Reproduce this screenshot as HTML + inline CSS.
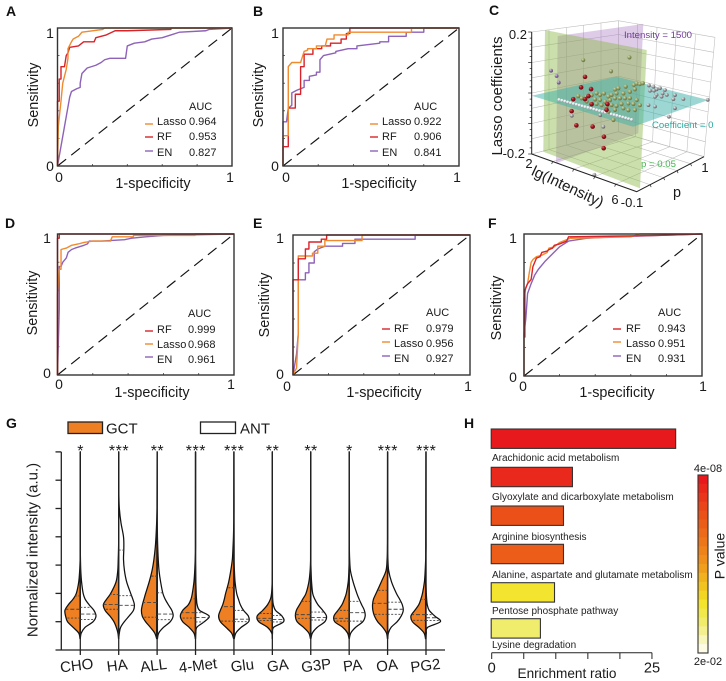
<!DOCTYPE html>
<html lang="en">
<head>
<meta charset="utf-8">
<title>Metabolomics classifier figure</title>
<style>
html,body{margin:0;padding:0;background:#fff;}
svg{display:block;font-family:"Liberation Sans",Arial,sans-serif;}
</style>
</head>
<body>
<svg id="figure" xmlns="http://www.w3.org/2000/svg" width="726" height="681" viewBox="0 0 726 681">
<defs>
<radialGradient id="ballRed" cx="35%" cy="30%" r="75%"><stop offset="0" stop-color="#e06a6a"/><stop offset=".45" stop-color="#a01420"/><stop offset="1" stop-color="#5c0a10"/></radialGradient>
<radialGradient id="ballGreen" cx="35%" cy="30%" r="75%"><stop offset="0" stop-color="#d4dcb0"/><stop offset=".5" stop-color="#8f9c62"/><stop offset="1" stop-color="#5e6a3c"/></radialGradient>
<radialGradient id="ballGray" cx="35%" cy="30%" r="75%"><stop offset="0" stop-color="#f0f0f0"/><stop offset=".5" stop-color="#9a9a9e"/><stop offset="1" stop-color="#55555a"/></radialGradient>
<radialGradient id="ballPurple" cx="35%" cy="30%" r="75%"><stop offset="0" stop-color="#e0d0f0"/><stop offset=".5" stop-color="#8a70a8"/><stop offset="1" stop-color="#504068"/></radialGradient>
<radialGradient id="ballWhite" cx="35%" cy="30%" r="75%"><stop offset="0" stop-color="#ffffff"/><stop offset=".65" stop-color="#dcdce4"/><stop offset="1" stop-color="#85858f"/></radialGradient>
</defs>
</svg>
<script>
// ---------- ROC data: panel A ----------
const rocALassoFpr = [0,0.005,0.02,0.03,0.04,0.05,0.06,0.06,0.08,0.09,0.12,0.14,0.2,0.26,0.27,1];
const rocALassoTpr = [0,0.29,0.47,0.6,0.65,0.7,0.78,0.85,0.9,0.92,0.94,0.97,0.98,0.99,1,1];
const rocARfFpr = [0,0,0.01,0.01,0.02,0.02,0.04,0.05,0.06,0.07,0.12,0.15,0.21,0.22,0.28,0.33,0.4,0.65,0.65,1];
const rocARfTpr = [0,0.47,0.47,0.63,0.63,0.72,0.72,0.8,0.82,0.86,0.87,0.9,0.9,0.93,0.95,0.98,0.98,0.99,1,1];
const rocAEnFpr = [0,0.07,0.08,0.11,0.13,0.13,0.14,0.17,0.22,0.25,0.27,0.3,0.39,0.4,0.44,0.5,0.54,0.6,0.65,0.7,0.85,0.87,1];
const rocAEnTpr = [0,0.5,0.54,0.56,0.57,0.6,0.67,0.71,0.73,0.75,0.77,0.78,0.78,0.87,0.89,0.9,0.92,0.93,0.95,0.97,0.98,0.99,1];
const aucA = [0.964,0.953,0.827];
// ---------- ROC data: panel B ----------
const rocBLassoFpr = [0,0,0.03,0.03,0.05,0.1,0.12,0.14,0.14,0.19,0.19,0.24,0.25,0.29,0.29,0.37,0.37,0.73,0.73,1];
const rocBLassoTpr = [0,0.22,0.22,0.72,0.75,0.75,0.83,0.84,0.85,0.85,0.87,0.87,0.92,0.92,0.95,0.95,0.97,0.97,1,1];
const rocBRfFpr = [0,0,0.03,0.03,0.07,0.07,0.1,0.1,0.12,0.12,0.17,0.17,0.22,0.22,0.27,0.27,0.33,0.33,0.36,0.36,0.38,0.38,1];
const rocBRfTpr = [0,0.14,0.14,0.42,0.42,0.52,0.52,0.72,0.72,0.81,0.81,0.85,0.85,0.87,0.87,0.89,0.89,0.92,0.92,0.96,0.96,1,1];
const rocBEnFpr = [0,0,0.02,0.03,0.05,0.05,0.08,0.1,0.12,0.12,0.15,0.15,0.19,0.19,0.21,0.21,0.23,0.3,0.3,0.37,0.42,0.42,0.55,0.55,0.6,0.6,0.7,0.7,0.8,0.8,1];
const rocBEnTpr = [0,0.32,0.32,0.42,0.44,0.53,0.55,0.56,0.57,0.62,0.62,0.65,0.66,0.68,0.68,0.77,0.8,0.82,0.83,0.85,0.85,0.87,0.89,0.9,0.9,0.94,0.94,0.97,0.97,1,1];
const aucB = [0.922,0.906,0.841];
// ---------- ROC data: panel D ----------
const rocDRfFpr = [0,0,0.01,0.01,1];
const rocDRfTpr = [0,0.97,0.97,1,1];
const rocDLassoFpr = [0,0,0.01,0.02,0.02,0.05,0.08,0.12,0.15,0.2,0.3,0.31,0.43,0.43,0.78,0.78,1];
const rocDLassoTpr = [0,0.57,0.75,0.75,0.89,0.9,0.92,0.93,0.94,0.95,0.95,0.98,0.98,0.99,0.99,1,1];
const rocDEnFpr = [0,0.01,0.01,0.02,0.03,0.05,0.06,0.08,0.1,0.15,0.17,0.18,0.25,0.38,0.42,0.5,0.6,1];
const rocDEnTpr = [0,0.47,0.77,0.77,0.8,0.83,0.87,0.89,0.9,0.92,0.93,0.95,0.95,0.96,0.97,0.98,0.99,1];
const aucD = [0.999,0.968,0.961];
// ---------- ROC data: panel E ----------
const rocERfFpr = [0,0,0.03,0.03,0.07,0.07,0.09,0.09,0.16,0.16,0.19,0.19,1];
const rocERfTpr = [0,0.68,0.68,0.83,0.83,0.9,0.9,0.95,0.95,0.97,0.97,1,1];
const rocELassoFpr = [0,0.02,0.03,0.03,0.11,0.11,0.14,0.14,0.18,0.18,0.39,0.39,1];
const rocELassoTpr = [0,0.05,0.3,0.85,0.85,0.87,0.87,0.92,0.92,0.96,0.96,1,1];
const rocEEnFpr = [0,0.02,0.03,0.03,0.07,0.07,0.09,0.09,0.12,0.12,0.14,0.18,0.28,0.28,0.35,0.35,0.69,0.69,1];
const rocEEnTpr = [0,0.15,0.3,0.68,0.68,0.73,0.73,0.8,0.8,0.88,0.9,0.92,0.92,0.94,0.94,0.97,0.97,1,1];
const aucE = [0.979,0.956,0.927];
// ---------- ROC data: panel F ----------
const rocFRfFpr = [0.005,0.005,0.01,0.02,0.04,0.05,0.06,0.07,0.09,0.1,0.13,0.14,0.16,0.17,0.2,0.24,0.25,0.5,0.75,1];
const rocFRfTpr = [0.27,0.6,0.62,0.65,0.68,0.77,0.8,0.83,0.84,0.87,0.88,0.89,0.9,0.92,0.93,0.95,0.98,0.985,0.99,1];
const rocFLassoFpr = [0,0,0.01,0.02,0.03,0.04,0.05,0.07,0.1,0.13,0.14,0.17,0.2,0.24,0.26,0.6,0.65,1];
const rocFLassoTpr = [0,0.55,0.62,0.65,0.73,0.8,0.82,0.84,0.85,0.87,0.9,0.91,0.94,0.96,0.97,0.98,1,1];
const rocFEnFpr = [0,0,0.01,0.02,0.04,0.06,0.08,0.12,0.16,0.2,0.25,0.35,0.5,0.75,1];
const rocFEnTpr = [0,0.3,0.4,0.58,0.65,0.71,0.75,0.81,0.86,0.91,0.95,0.97,0.98,0.99,1];
const aucF = [0.943,0.951,0.931];

// ---------- Panel C: 3D scatter values ----------
const greenLgI = [3.73,5.49,4.79,4.94,5.07,5.35,5.66,5.77,5.89,6.0,5.7,5.51,5.26,5.0,4.81,4.69,4.52,4.37,4.24,4.05,3.86,3.67,3.54,4.18,4.37,4.56,4.75,4.94,5.13,5.32,5.51,5.77,5.89,5.64,5.45,5.19,5.0,4.81,4.62,4.43,4.24,4.05,3.86,5.26,5.7,5.45,4.94,4.69,4.88];
const greenCoef = [0.151,0.214,0.147,0.092,0.1,0.114,0.129,0.137,0.139,0.145,0.116,0.102,0.089,0.081,0.07,0.061,0.066,0.056,0.058,0.046,0.035,0.024,0.027,0.036,0.04,0.04,0.051,0.063,0.069,0.075,0.081,0.083,0.07,0.066,0.062,0.052,0.04,0.037,0.026,0.025,0.023,0.019,0.019,0.04,0.048,0.04,0.025,0.011,-0.01];
const greenP = 0;
const redLgI = [3.8,3.65,4.03,3.93,3.8,3.35,4.05,4.65,4.62,3.29,3.47,4.09,4.52,4.51];
const redCoef = [0.098,0.059,0.065,0.039,0.025,0.011,0.016,0.035,0.015,-0.03,-0.071,-0.056,-0.076,-0.114];
const redP = 0;
const grayLgI = [4.37,4.54,4.66,4.41,4.56,4.79,4.98,4.89,4.66,4.85,5.05,4.6,5.36,5.3,5.68,5.36,4.6,4.35,5.13,6.61,2.63,2.29,1.43,2.51];
const grayCoef = [0.004,0.005,0,-0.012,-0.007,0.008,0.008,-0.006,-0.018,-0.018,-0.006,-0.026,0.003,-0.012,0,-0.04,-0.058,-0.061,-0.075,0.026,-0.185,-0.353,-0.186,-0.151];
const grayP = 0.8;
const purpleLgI = [2.74,2.95,3.03];
const purpleCoef = [0.096,0.085,0.066];
const purpleP = -0.1;
const whiteLgI = [2.9,3.0,3.1,3.2,3.3,3.4,3.5,3.6,3.7,3.8,3.9,4.0,4.1,4.2,4.3,4.4,4.5,4.6,4.7,4.8,4.9,5.0,5.1,5.2,5.3,5.4];
const whiteP = [-0.04,-0.036,-0.031,-0.027,-0.022,-0.018,-0.013,-0.009,-0.004,0,0.005,0.01,0.014,0.019,0.023,0.028,0.032,0.037,0.041,0.046,0.05,0.055,0.059,0.064,0.068,0.073];

// ---------- Panel G: violin values ----------
const categories = ["CHO","HA","ALL","4-Met","Glu","GA","G3P","PA","OA","PG2"];
const significance = ["*","***","**","***","***","**","**","*","***","***"];
const intensityGrid = [0.4,0.6,0.8,1,1.2,1.4,1.6,1.8,2,2.4,2.8,3.2,3.6,4,4.5,5,5.5,6,7];
const gctCHO = [0.02,0.1,0.45,0.8,0.92,0.96,0.75,0.45,0.25,0.1,0.04,0.01,0,0,0,0,0,0,0];
const antCHO = [0,0.06,0.3,0.8,0.98,0.85,0.55,0.3,0.18,0.08,0.03,0.01,0,0,0,0,0,0,0];
const gctHA = [0.01,0.05,0.15,0.3,0.55,0.85,0.96,0.75,0.5,0.17,0.06,0.03,0.01,0,0,0,0,0,0];
const antHA = [0,0.04,0.12,0.35,0.65,0.92,0.98,0.88,0.75,0.5,0.36,0.3,0.32,0.3,0.14,0.04,0.01,0,0];
const gctALL = [0.03,0.15,0.42,0.72,0.93,0.98,0.92,0.82,0.72,0.5,0.32,0.2,0.12,0.07,0.03,0.01,0,0,0];
const antALL = [0.02,0.1,0.4,0.82,1,0.92,0.7,0.5,0.36,0.22,0.12,0.07,0.04,0.02,0.01,0,0,0,0];
const gct4Met = [0.01,0.1,0.4,0.8,0.95,0.8,0.45,0.28,0.2,0.1,0.05,0.02,0,0,0,0,0,0,0];
const ant4Met = [0,0.02,0.08,0.55,0.85,0.25,0.1,0.06,0.04,0.02,0.01,0,0,0,0,0,0,0,0];
const gctGlu = [0.02,0.15,0.5,0.85,0.96,0.85,0.7,0.6,0.52,0.33,0.2,0.1,0.06,0.03,0.01,0,0,0,0];
const antGlu = [0.02,0.12,0.45,0.92,0.9,0.6,0.4,0.28,0.17,0.07,0.03,0.01,0,0,0,0,0,0,0];
const gctGA = [0,0.04,0.3,0.85,0.95,0.6,0.3,0.12,0.05,0.01,0,0,0,0,0,0,0,0,0];
const antGA = [0,0.01,0.08,0.7,0.6,0.2,0.06,0.02,0.01,0,0,0,0,0,0,0,0,0,0];
const gctG3P = [0.02,0.12,0.45,0.85,0.96,0.9,0.7,0.5,0.3,0.12,0.04,0.01,0,0,0,0,0,0,0];
const antG3P = [0.01,0.1,0.4,0.88,0.98,0.75,0.45,0.25,0.12,0.05,0.02,0,0,0,0,0,0,0,0];
const gctPA = [0.01,0.1,0.4,0.9,0.95,0.7,0.45,0.3,0.18,0.06,0.02,0,0,0,0,0,0,0,0];
const antPA = [0.01,0.1,0.4,0.85,1,0.95,0.78,0.62,0.48,0.25,0.08,0.03,0.01,0,0,0,0,0,0];
const gctOA = [0.01,0.07,0.3,0.62,0.82,0.92,0.94,0.88,0.72,0.4,0.1,0.03,0.01,0,0,0,0,0,0];
const antOA = [0.01,0.05,0.22,0.6,0.85,0.98,0.92,0.75,0.55,0.25,0.07,0.02,0,0,0,0,0,0,0];
const gctPG2 = [0.03,0.12,0.45,0.85,0.94,0.7,0.45,0.32,0.22,0.1,0.05,0.02,0,0,0,0,0,0,0];
const antPG2 = [0,0.02,0.1,0.9,0.55,0.2,0.08,0.04,0.02,0,0,0,0,0,0,0,0,0,0];
const quartGCT_upper = [1.91,1.96,2.61,1.81,2.2,1.29,1.72,1.4,2.11,1.79];
const quartGCT_median = [1.44,1.61,1.68,1.32,1.53,1.12,1.25,1.12,1.65,1.25];
const quartGCT_lower = [1.13,1.44,1.16,1.13,1.02,1.04,1.12,1.02,1.26,1.05];
const quartANT_upper = [1.51,1.92,2.02,1.32,1.4,1.22,1.34,1.72,1.69,1.25];
const quartANT_median = [1.27,1.58,1.27,1.15,1.09,1.08,1.15,1.32,1.44,1.14];
const quartANT_lower = [1.08,3.53,1.07,0.99,1.0,0.99,1.06,1.02,1.26,1.04];

// ---------- Panel H: enrichment values ----------
const pathways = ["Arachidonic acid metabolism","Glyoxylate and dicarboxylate metabolism","Arginine biosynthesis","Alanine, aspartate and glutamate metabolism","Pentose phosphate pathway","Lysine degradation"];
const enrichment = [28.7,12.6,11.2,11.2,9.8,7.6];
const log10P = [-7.4,-7.06,-6.26,-5.92,-3.18,-2.56];
const enrichmentTicks = [0,5,10,15,20,25];
const enrichmentTickLabels = ["0","","","","","25"];

const svg = document.getElementById('figure');
const NS = 'http://www.w3.org/2000/svg';
function mk(tag, attrs, parent) {
  const e = document.createElementNS(NS, tag);
  for (const k in attrs) e.setAttribute(k, attrs[k]);
  (parent || svg).appendChild(e);
  return e;
}
function tx(str, x, y, size, parent, extra) {
  const e = mk('text', Object.assign({x: x, y: y, 'font-size': size, fill: '#1a1a1a'}, extra || {}), parent);
  e.textContent = str;
  return e;
}
function group(parent) { return mk('g', {}, parent); }

// ---------- ROC panels ----------
const seriesColor = {Lasso: '#f08a2e', RF: '#d8232a', EN: '#8d62b8'};
function drawRoc(lay, names, fprs, tprs, aucs) {
  const g = group();
  
  
  const xS = f => lay.x0 + f * (lay.x1 - lay.x0);
  const yS = s => lay.yB - s * (lay.yB - lay.yT);

  const letter = tx(lay.id.toUpperCase(), lay.lx, lay.ly, 14, g, {'font-weight': 'bold', fill: '#111'});
  
  

  for (let i = 1; i < 5; i++) {
    const tb = mk('line', {x1: xS(i / 5), x2: xS(i / 5), y1: lay.yB, y2: lay.yB - 2, stroke: '#444', 'stroke-width': 0.8}, g);
    
    
    const tl = mk('line', {x1: lay.x0, x2: lay.x0 + 2, y1: yS(i / 5), y2: yS(i / 5), stroke: '#444', 'stroke-width': 0.8}, g);
    
    
  }

  const diag = mk('line', {x1: xS(0), y1: yS(0), x2: xS(1), y2: yS(1), stroke: '#111', 'stroke-width': 1.15, 'stroke-dasharray': '11 6.5'}, g);
  
  

  for (let i = names.length - 1; i >= 0; i--) {
    const pts = fprs[i].map((f, j) => xS(f).toFixed(2) + ',' + yS(tprs[i][j]).toFixed(2)).join(' ');
    const line = mk('polyline', {points: pts, fill: 'none', stroke: seriesColor[names[i]], 'stroke-width': 1.4, 'stroke-linejoin': 'round'}, g);
    
    
  }

  const box = mk('rect', {x: lay.x0, y: lay.yT, width: lay.x1 - lay.x0, height: lay.yB - lay.yT, fill: 'none', stroke: '#333', 'stroke-width': 1.4}, g);
  
  

  const y1 = tx('1', lay.ytx, lay.yt1, 14, g, {'text-anchor': 'middle'});
  
  
  const y0 = tx('0', lay.ytx, lay.yt0, 14, g, {'text-anchor': 'middle'});
  
  
  const x0l = tx('0', lay.xt0, lay.xtb, 14, g, {'text-anchor': 'middle'});
  
  
  const x1l = tx('1', lay.xt1, lay.xtb, 14, g, {'text-anchor': 'middle'});
  
  

  const xt = tx('1-specificity', lay.tcx, lay.tb, 14.4, g, {'text-anchor': 'middle'});
  
  
  const yt = tx('Sensitivity', lay.sx, lay.scy, 14.4, g, {'text-anchor': 'middle', transform: 'rotate(-90 ' + lay.sx + ' ' + lay.scy + ')'});
  
  

  const aucHead = tx('AUC', lay.ax, lay.ab, 11, g);
  
  
  names.forEach((n, i) => {
    const sw = mk('line', {x1: lay.swx, x2: lay.swx + 8, y1: lay.swy[i], y2: lay.swy[i], stroke: seriesColor[n], 'stroke-width': 1.4}, g);
    
    
    const lab = tx(n, lay.lbx, lay.rows[i], 11, g);
    
    
    const val = tx(aucs[i].toFixed(3), lay.ax, lay.rows[i], 11, g);
    
    
  });
}

drawRoc({id:'a',x0:57.5,x1:232,yT:28,yB:166,lx:6,ly:16,ytx:50,yt1:38,yt0:171,xt0:59,xt1:230,xtb:182,tcx:153,tb:188,sx:38,scy:95,ax:189,ab:110,rows:[125,140,156],lbx:157,swx:145,swy:[124,137,151]},
  ['Lasso','RF','EN'],[rocALassoFpr,rocARfFpr,rocAEnFpr],[rocALassoTpr,rocARfTpr,rocAEnTpr],aucA);
drawRoc({id:'b',x0:283,x1:459,yT:28,yB:166,lx:253,ly:16,ytx:275,yt1:38,yt0:171,xt0:286,xt1:457,xtb:182,tcx:379,tb:188,sx:263,scy:95,ax:414,ab:110,rows:[125,140,156],lbx:382,swx:370,swy:[124,137,151]},
  ['Lasso','RF','EN'],[rocBLassoFpr,rocBRfFpr,rocBEnFpr],[rocBLassoTpr,rocBRfTpr,rocBEnTpr],aucB);
drawRoc({id:'d',x0:57.5,x1:234,yT:234,yB:375,lx:5,ly:228,ytx:47,yt1:243,yt0:378,xt0:59,xt1:231,xtb:389,tcx:152,tb:397,sx:37,scy:303,ax:188,ab:317,rows:[333,348,363],lbx:157,swx:145,swy:[331,344,357]},
  ['RF','Lasso','EN'],[rocDRfFpr,rocDLassoFpr,rocDEnFpr],[rocDRfTpr,rocDLassoTpr,rocDEnTpr],aucD);
drawRoc({id:'e',x0:293,x1:470,yT:235,yB:375,lx:253,ly:228,ytx:280,yt1:243,yt0:379,xt0:287,xt1:468,xtb:391,tcx:384,tb:397,sx:269,scy:305,ax:426,ab:316,rows:[332,347,362],lbx:394,swx:382,swy:[329,342,356]},
  ['RF','Lasso','EN'],[rocERfFpr,rocELassoFpr,rocEEnFpr],[rocERfTpr,rocELassoTpr,rocEEnTpr],aucE);
drawRoc({id:'f',x0:524,x1:702,yT:234,yB:376,lx:488,ly:228,ytx:513,yt1:243,yt0:382,xt0:523,xt1:703,xtb:391,tcx:617,tb:397,sx:501,scy:308,ax:658,ab:316,rows:[332,347,362],lbx:626,swx:613,swy:[329,342,356]},
  ['RF','Lasso','EN'],[rocFRfFpr,rocFLassoFpr,rocFEnFpr],[rocFRfTpr,rocFLassoTpr,rocFEnTpr],aucF);

// ---------- Panel C: 3D ----------
(function () {
  const g = group();
  
  
  const Z = (x, y) => [480 + x / 3, y / 3];
  const poly = (arr) => arr.map(p => { const q = Z(p[0], p[1]); return q[0].toFixed(1) + ',' + q[1].toFixed(1); }).join(' ');
  const lerp = (a, b, t) => [a[0] + (b[0] - a[0]) * t, a[1] + (b[1] - a[1]) * t];
  function wall(a, b, c, d, nu, nv, name) {
    const wg = group(g);
    
    
    let path = '';
    for (let i = 0; i <= nu; i++) {
      const p = Z.apply(null, lerp(a, b, i / nu)), q = Z.apply(null, lerp(d, c, i / nu));
      path += 'M' + p[0].toFixed(1) + ' ' + p[1].toFixed(1) + 'L' + q[0].toFixed(1) + ' ' + q[1].toFixed(1);
    }
    for (let j = 0; j <= nv; j++) {
      const p = Z.apply(null, lerp(a, d, j / nv)), q = Z.apply(null, lerp(b, c, j / nv));
      path += 'M' + p[0].toFixed(1) + ' ' + p[1].toFixed(1) + 'L' + q[0].toFixed(1) + ' ' + q[1].toFixed(1);
    }
    mk('path', {d: path, stroke: '#bcbcbc', 'stroke-width': 0.55, fill: 'none'}, wg);
  }
  wall([155,96],[415,62],[415,395],[155,462], 5, 8, 'left-wall-grid');
  wall([415,62],[705,112],[672,470],[415,395], 5, 8, 'right-wall-grid');
  wall([155,462],[415,395],[672,470],[470,575], 5, 5, 'floor-grid');

  const purple = mk('polygon', {points: poly([[233,108],[490,72],[475,400],[228,490]]), fill: 'rgba(160,110,190,0.36)'}, g);
  
  
  const green = mk('polygon', {points: poly([[195,90],[500,150],[480,565],[190,455]]), fill: 'rgba(140,185,70,0.45)'}, g);
  
  
  const teal = mk('polygon', {points: poly([[155,287],[410,230],[685,300],[460,380]]), fill: 'rgba(60,175,170,0.5)'}, g);
  
  

  // axis functions of the 3D view
  const px = (lg, p) => 531.67 + (lg - 2) * 26.25 + (p + 0.1) * 61.2;
  const py = (lg, p, c) => 154 + (lg - 2) * 9.417 - (p + 0.1) * 31.83 - (c + 0.2) * 305;

  whiteLgI.forEach((lg, i) => {
    const b = mk('circle', {cx: px(lg, whiteP[i]), cy: py(lg, whiteP[i], 0), r: 1.5, fill: 'url(#ballWhite)'}, g);
    
    
  });
  grayLgI.forEach((lg, i) => {
    const b = mk('circle', {cx: px(lg, grayP), cy: py(lg, grayP, grayCoef[i]), r: 1.9, fill: 'url(#ballGray)'}, g);
    
    
  });
  purpleLgI.forEach((lg, i) => {
    const b = mk('circle', {cx: px(lg, purpleP), cy: py(lg, purpleP, purpleCoef[i]), r: 1.9, fill: 'url(#ballPurple)'}, g);
    
    
  });
  greenLgI.forEach((lg, i) => {
    const b = mk('circle', {cx: px(lg, greenP), cy: py(lg, greenP, greenCoef[i]), r: 2.1, fill: 'url(#ballGreen)'}, g);
    
    
  });
  redLgI.forEach((lg, i) => {
    const b = mk('circle', {cx: px(lg, redP), cy: py(lg, redP, redCoef[i]), r: 2.3, fill: 'url(#ballRed)'}, g);
    
    
  });

  // axes
  const ax = mk('polyline', {points: poly([[155,96],[155,462],[470,575],[672,470]]), fill: 'none', stroke: '#222', 'stroke-width': 1}, g);
  
  
  for (let i = 0; i <= 20; i++) {
    const y = 96 + i * 18.3;
    const major = i % 5 === 0;
    const q = Z(155, y);
    const t = mk('line', {x1: q[0] - (major ? 3.5 : 2), x2: q[0], y1: q[1], y2: q[1], stroke: '#222', 'stroke-width': 0.7}, g);
    
    
  }
  for (let i = 1; i < 5; i++) {
    const p = Z.apply(null, lerp([155,462],[470,575], i / 5));
    const t = mk('line', {x1: p[0], x2: p[0] - 1, y1: p[1], y2: p[1] + 2.5, stroke: '#222', 'stroke-width': 0.7}, g);
    
    
    const r = Z.apply(null, lerp([470,575],[672,470], i / 5));
    const t2 = mk('line', {x1: r[0], x2: r[0] + 1, y1: r[1], y2: r[1] + 2.5, stroke: '#222', 'stroke-width': 0.7}, g);
    
    
  }

  const letter = tx('C', 489, 15, 14, g, {'font-weight': 'bold', fill: '#111'});
  
  
  const t1 = tx('0.2', 527, 39, 13, g, {'text-anchor': 'end'});
  
  
  const t2 = tx('-0.2', 525, 158, 13, g, {'text-anchor': 'end'});
  
  
  const yt = tx('Lasso coefficients', 502, 96, 15, g, {'text-anchor': 'middle', transform: 'rotate(-90 502 96)'});
  
  
  const xt = tx('lg(Intensity)', 565.6, 191, 15, g, {'text-anchor': 'middle', transform: 'rotate(25 565.6 191)'});
  
  
  const l2 = tx('2', 529, 168, 13, g, {'text-anchor': 'middle'});
  
  
  const l6 = tx('6', 615, 204, 13, g, {'text-anchor': 'middle'});
  
  
  const lp0 = tx('-0.1', 632, 207, 13, g, {'text-anchor': 'middle'});
  
  
  const lp1 = tx('1', 705, 172, 13, g, {'text-anchor': 'middle'});
  
  
  const pTitle = tx('p', 677, 197, 14.4, g, {'text-anchor': 'middle'});
  
  
  const a1 = tx('Intensity = 1500', 624, 38, 9.6, g, {fill: '#6f3a96'});
  
  
  const a2 = tx('Coefficient = 0', 652, 128, 9.6, g, {fill: '#22a89e'});
  
  
  const a3 = tx('p = 0.05', 641, 167, 9.6, g, {fill: '#3fb54a'});
  
  
})();

// ---------- Panel G: violins ----------
const gctDensity = [gctCHO,gctHA,gctALL,gct4Met,gctGlu,gctGA,gctG3P,gctPA,gctOA,gctPG2];
const antDensity = [antCHO,antHA,antALL,ant4Met,antGlu,antGA,antG3P,antPA,antOA,antPG2];
(function () {
  const g = group();
  
  
  const vY = v => 650 - v * 28.3;
  const cX = i => 80.3 + i * 38.41;
  const dW = d => d * 16;
  const labelNudge = [-3,-1,-3,3,9,6,6,4,0,0];

  function smooth(pts) {
    let d = 'M' + pts[0][0].toFixed(2) + ' ' + pts[0][1].toFixed(2);
    for (let i = 0; i < pts.length - 1; i++) {
      const p0 = pts[Math.max(0, i - 1)], p1 = pts[i], p2 = pts[i + 1], p3 = pts[Math.min(pts.length - 1, i + 2)];
      const c1 = [p1[0] + (p2[0] - p0[0]) / 6, p1[1] + (p2[1] - p0[1]) / 6];
      const c2 = [p2[0] - (p3[0] - p1[0]) / 6, p2[1] - (p3[1] - p1[1]) / 6];
      d += 'C' + c1[0].toFixed(2) + ' ' + c1[1].toFixed(2) + ' ' + c2[0].toFixed(2) + ' ' + c2[1].toFixed(2) + ' ' + p2[0].toFixed(2) + ' ' + p2[1].toFixed(2);
    }
    return d;
  }
  function densityAt(arr, v) {
    for (let i = 0; i < intensityGrid.length - 1; i++) {
      if (v >= intensityGrid[i] && v <= intensityGrid[i + 1]) {
        const t = (v - intensityGrid[i]) / (intensityGrid[i + 1] - intensityGrid[i]);
        return arr[i] + (arr[i + 1] - arr[i]) * t;
      }
    }
    return 0;
  }

  const letter = tx('G', 6, 428, 14, g, {'font-weight': 'bold', fill: '#111'});
  
  

  const lg1 = mk('rect', {x: 68, y: 422, width: 34.5, height: 11.5, fill: '#ee7f22', stroke: '#222', 'stroke-width': 1.3}, g);
  
  
  const lg1t = tx('GCT', 106, 433.5, 15, g);
  
  
  const lg2 = mk('rect', {x: 200.5, y: 422, width: 35, height: 11.5, fill: '#fff', stroke: '#222', 'stroke-width': 1.3}, g);
  
  
  const lg2t = tx('ANT', 240, 433.5, 15, g);
  
  

  const yAxis = mk('line', {x1: 61.3, x2: 61.3, y1: vY(7), y2: vY(0), stroke: '#222', 'stroke-width': 1.3}, g);
  
  
  const xAxis = mk('line', {x1: 55.5, x2: 445, y1: vY(0), y2: vY(0), stroke: '#222', 'stroke-width': 1.3}, g);
  
  
  for (let v = 1; v <= 7; v++) {
    const t = mk('line', {x1: 55.5, x2: 61.3, y1: vY(v), y2: vY(v), stroke: '#222', 'stroke-width': 1.3}, g);
    
    
  }
  const yt = tx('Normalized intensity (a.u.)', 37.5, 550, 15, g, {'text-anchor': 'middle', transform: 'rotate(-90 37.5 550)'});
  
  

  categories.forEach((name, i) => {
    const vg = group(g);
    
    
    const cx = cX(i);
    const left = intensityGrid.map((v, j) => [cx - dW(gctDensity[i][j]), vY(v)]);
    const right = intensityGrid.map((v, j) => [cx + dW(antDensity[i][j]), vY(v)]);
    const lp = mk('path', {d: smooth(left) + 'Z', fill: '#ee7f22', stroke: '#111', 'stroke-width': 1.25, 'stroke-linejoin': 'round'}, vg);
    
    
    const rp = mk('path', {d: smooth(right) + 'Z', fill: '#fff', stroke: '#111', 'stroke-width': 1.25, 'stroke-linejoin': 'round'}, vg);
    
    
    const center = mk('line', {x1: cx, x2: cx, y1: vY(7), y2: vY(0), stroke: '#222', 'stroke-width': 1.25}, vg);
    
    

    [[quartGCT_upper[i], '2 1.6'], [quartGCT_median[i], '4 2'], [quartGCT_lower[i], '2 1.6']].forEach(q => {
      const l = mk('line', {x1: cx, x2: cx - dW(densityAt(gctDensity[i], q[0])), y1: vY(q[0]), y2: vY(q[0]), stroke: '#444', 'stroke-width': 0.9, 'stroke-dasharray': q[1]}, vg);
      
      
    });
    [[quartANT_upper[i], '2 1.6'], [quartANT_median[i], '4 2'], [quartANT_lower[i], '2 1.6']].forEach(q => {
      const l = mk('line', {x1: cx, x2: cx + dW(densityAt(antDensity[i], q[0])), y1: vY(q[0]), y2: vY(q[0]), stroke: '#444', 'stroke-width': 0.9, 'stroke-dasharray': q[1]}, vg);
      
      
    });

    const tick = mk('line', {x1: cx, x2: cx, y1: vY(0), y2: vY(0) + 5, stroke: '#222', 'stroke-width': 1.3}, vg);
    
    
    const sx = cx + labelNudge[i];
    const lab = tx(name, sx, 670.5, 15, vg, {'text-anchor': 'middle', transform: 'rotate(-7 ' + sx + ' 670.5)'});
    
    
    const star = tx(significance[i], cx + 0.3, 456, 16, vg, {'text-anchor': 'middle', 'letter-spacing': 0.5});
    
    
  });
})();

// ---------- Panel H: bars ----------
const colorStops = [[0,[232,25,28]],[0.2,[234,80,24]],[0.3,[236,102,26]],[0.5,[240,150,28]],[0.72,[243,227,37]],[0.85,[240,236,108]],[1,[253,251,228]]];
function pColor(t) {
  for (let i = 0; i < colorStops.length - 1; i++) {
    const a = colorStops[i], b = colorStops[i + 1];
    if (t <= b[0]) {
      const f = (t - a[0]) / (b[0] - a[0]);
      const c = a[1].map((v, k) => Math.round(v + (b[1][k] - v) * f));
      return 'rgb(' + c.join(',') + ')';
    }
  }
  return 'rgb(253,251,228)';
}
(function () {
  const g = group();
  
  
  const xS = r => 491.7 + r * 6.41;
  const pT = lp => (lp + 7.4) / 5.7;
  const barTop = [429, 467.3, 506, 544.3, 582.7, 618.7];
  const labelBase = [461, 500, 540, 578, 614, 648];

  const letter = tx('H', 464, 428, 14, g, {'font-weight': 'bold', fill: '#111'});
  
  

  pathways.forEach((name, i) => {
    const bar = mk('rect', {x: xS(0) - 0.5, y: barTop[i], width: xS(enrichment[i]) - xS(0) + 0.5, height: 19.4, fill: pColor(pT(log10P[i])), stroke: '#333', 'stroke-width': 1.1}, g);
    
    
    const lab = tx(name, 492, labelBase[i], 10, g, {fill: '#222'});
    
    
  });

  const axis = mk('line', {x1: xS(0), x2: xS(25), y1: 652.7, y2: 652.7, stroke: '#222', 'stroke-width': 1}, g);
  
  
  enrichmentTicks.forEach((v, i) => {
    const t = mk('line', {x1: xS(v), x2: xS(v), y1: 652.7, y2: 659, stroke: '#222', 'stroke-width': 1}, g);
    
    
    if (enrichmentTickLabels[i]) {
      const l = tx(enrichmentTickLabels[i], xS(v), 672.5, 14.6, g, {'text-anchor': 'middle'});
      
      
    }
  });
  const title = tx('Enrichment ratio', 567, 678, 13.6, g, {'text-anchor': 'middle'});
  
  

  // colour bar
  const bands = 20, cbX = 698, cbW = 10, cbT = 475, cbB = 653;
  for (let i = 0; i < bands; i++) {
    const b = mk('rect', {x: cbX, y: cbT + i * (cbB - cbT) / bands, width: cbW, height: (cbB - cbT) / bands + 0.4, fill: pColor(i / (bands - 1))}, g);
    
    
  }
  const frame = mk('rect', {x: cbX, y: cbT, width: cbW, height: cbB - cbT, fill: 'none', stroke: '#333', 'stroke-width': 1.1}, g);
  
  
  const hi = tx('4e-08', 708, 472, 11, g, {'text-anchor': 'middle'});
  
  
  const lo = tx('2e-02', 708, 665, 11, g, {'text-anchor': 'middle'});
  
  
  const pv = tx('P value', 724.5, 556, 14, g, {'text-anchor': 'middle', transform: 'rotate(-90 724.5 556)'});
  
  
})();
</script>
</body>
</html>
